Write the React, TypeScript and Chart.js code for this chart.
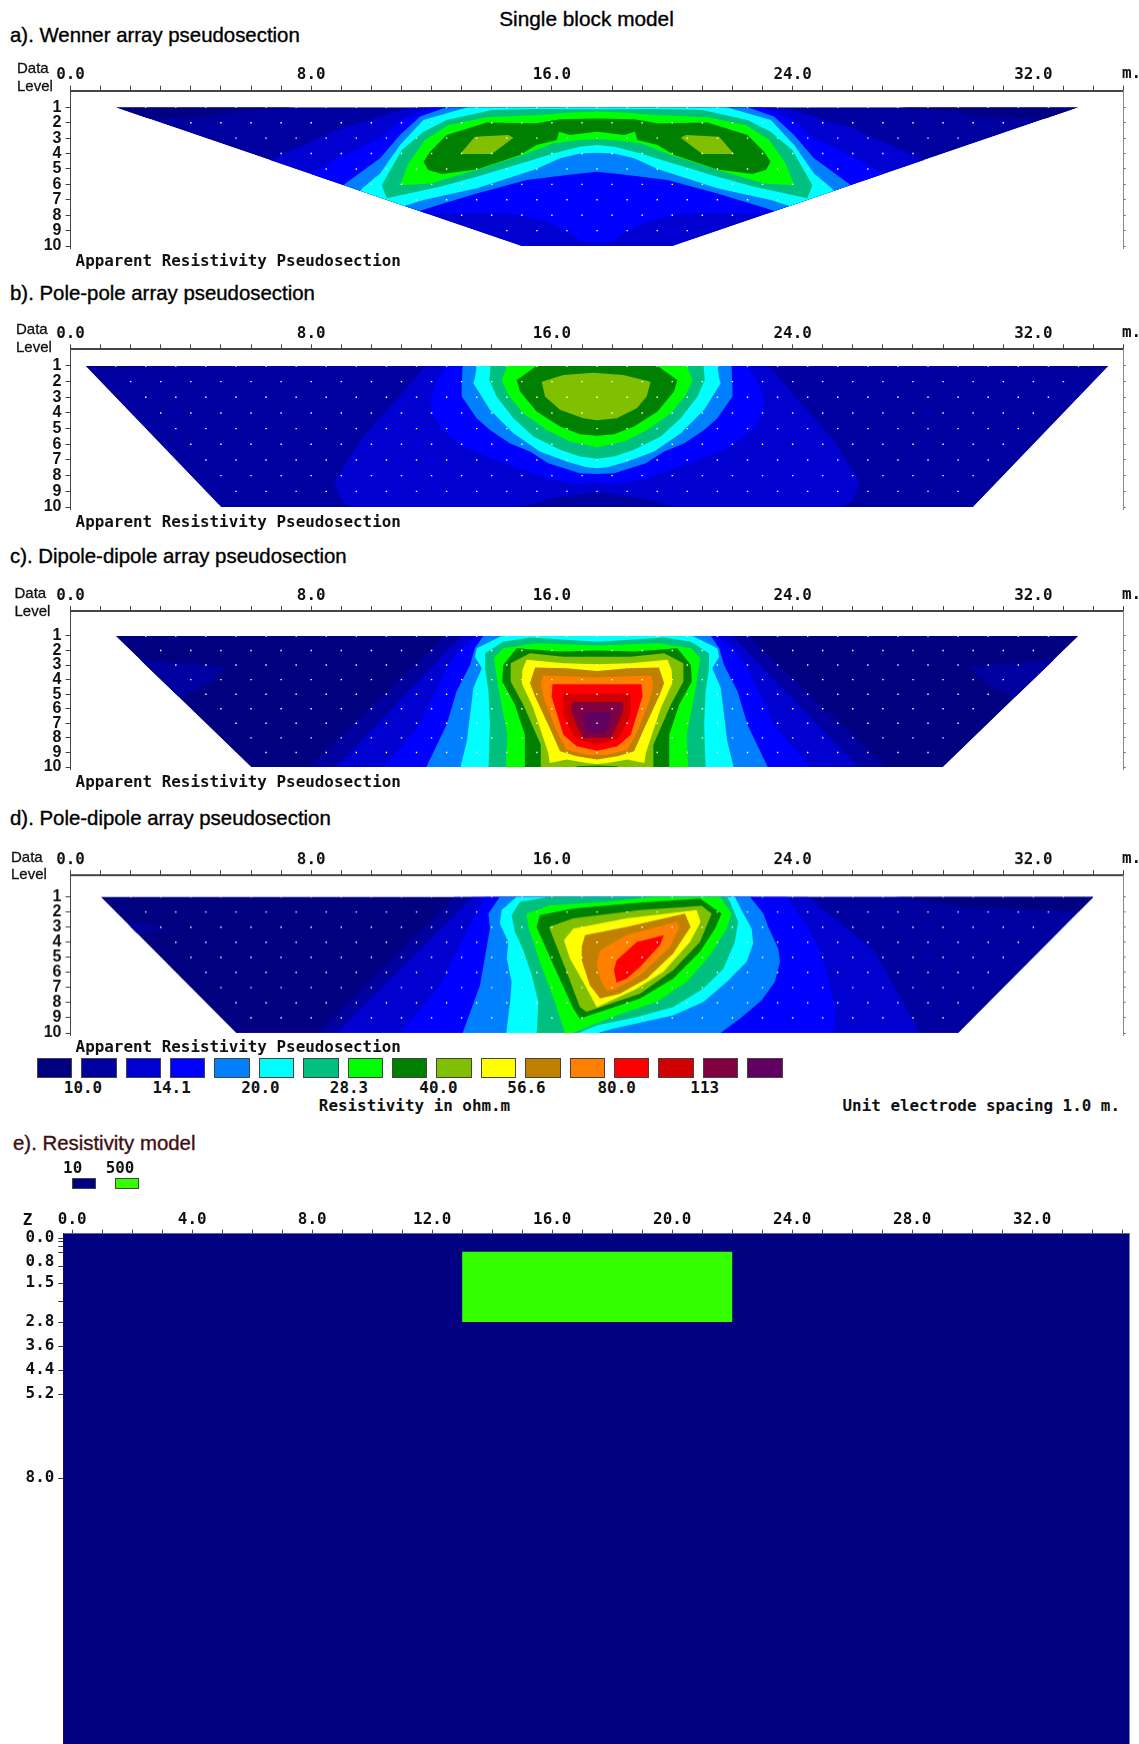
import React, { useEffect, useRef } from "react";
import { Chart, registerables } from "chart.js";

Chart.register(...registerables);

type Pt = number[];

// ---------- shared axis values ----------
const xTicksMetres = [0,1,2,3,4,5,6,7,8,9,10,11,12,13,14,15,16,17,18,19,20,21,22,23,24,25,26,27,28,29,30,31,32,33,34,35];
const xLabelledPseudo = [0, 8, 16, 24, 32];
const xLabelledModel = [0, 4, 8, 12, 16, 20, 24, 28, 32];
const levelTicks = [1,2,3,4,5,6,7,8,9,10];
const depthTicks = [0,0.12,0.27,0.48,0.8,0.96,1.5,2.12,2.8,3.6,4.4,5.2,8];
const depthLabelled = [0,0.8,1.5,2.8,3.6,4.4,5.2,8];
const depthUnmarked = [0.8];

// ---------- colour scale ----------
const bandColours = ["#000080","#0000A0","#0000D0","#0000FF","#0080FF","#00FFFF","#00C080","#00FF00","#008000","#80C000","#FFFF00","#C08000","#FF8000","#FF0000","#D00000","#800040","#600060"];
const legendValues = ["10.0","14.1","20.0","28.3","40.0","56.6","80.0","113"];
const modelValues = ["10","500"];
const modelColours = ["#000080","#33FF00"];

// ---------- helpers to complete symmetric outlines (half given, x in metres, y = data level) ----------
const mirror = (half: Pt[]): Pt[] => [...half, ...half.slice().reverse().map(([x, y]) => [35 - x, y])];
const flip = (poly: Pt[]): Pt[] => poly.map(([x, y]) => [35 - x, y]);

// ---------- a) Wenner ----------
const aOutline = [[1.5,1],[33.5,1],[20,10],[15,10]];
const aBand0 = [[1.5,1],[7.5,1],[5.7,1.28],[4.5,1.6],[3.4,1.7],[2.5,1.75]];
const aBand2 = [[17.5,11],[5.5,11],[5.5,5.5],[6,5],[7,4.1],[9,2.36],[11.2,1.06],[11.6,1],[17.5,1]];
const aBand3 = [[17.5,1],[12,1],[11,1.8],[10.3,3],[9,4.2],[7.9,5.4],[7,8],[12.67,7.87],[13.94,7.88],[14.94,7.99],[15.83,8.43],[16.49,9.08],[17.04,9.73],[17.5,9.77]];
const aBand4 = [[17.5,1],[12.5,1],[11.62,1.6],[10.95,2.8],[10.29,4.31],[9.06,6.05],[8.5,8],[11.2,8],[11.62,7.71],[12.39,7.24],[13.5,6.59],[15.16,5.72],[16.49,5.4],[17.5,5.18]];
const aBand5 = [[17.5,1],[13.2,1],[11.73,1.83],[10.95,3.45],[10.29,5.29],[9.7,6.25],[9,8],[10.8,8],[11.12,7.39],[11.73,7.02],[13.5,6.26],[15.44,5.03],[16.27,4.31],[16.93,3.99],[17.5,3.95]];
const aBand6 = [[17.5,1.13],[15.49,1.11],[14,1.18],[12.5,1.83],[11.73,2.58],[11.01,3.77],[10.34,6.05],[10.51,6.9],[12.28,6.15],[13.5,5.5],[15.16,4.53],[16.05,3.99],[16.93,3.56],[17.5,3.45]];
const aBand7 = [[17.5,1.28],[16.49,1.35],[15.6,1.5],[13.83,1.65],[12.56,2.15],[11.78,3.12],[11.23,4.64],[10.95,6.05],[11.95,5.94],[13.5,5.07],[15.05,4.1],[16.05,3.34],[16.93,3.12],[17.5,3.08]];
const aBand8 = [[17.5,1.72],[16.27,1.78],[15.49,2.04],[13.83,1.98],[12.5,2.8],[11.95,3.88],[11.73,4.53],[11.89,5.07],[12.34,5.33],[13.5,5.03],[14.94,4.1],[15.49,3.45],[16.16,3.12],[16.24,2.58],[16.6,2.8],[17.5,2.58]];
const aBand9 = [[12.95,4.03],[13.44,2.91],[14.55,2.8],[14.72,2.97],[14,4.03]];
const aDotFirst = [2.5,4,5.5,7,8.5,10,11.5,13,14.5];
const aDotLast = [32.5,31,29.5,28,26.5,25,23.5,22,20.5];

// ---------- b) Pole-pole ----------
const bOutline = [[0.5,1],[34.5,1],[30,10],[5,10]];
const bBand0 = [[0.5,1],[4,1],[1,1.15]];
const bBand2 = [[17.5,1],[11.8,1],[9.74,5.5],[8.77,8.38],[9,9.55],[9.5,10.2],[14.94,10.2],[14.94,10],[16.05,9.43],[17.5,9.05]];
const bBand3 = [[17.5,1],[12.5,1],[12.17,2],[11.95,3.17],[12,3.9],[12.28,4.97],[13.05,6.14],[14.4,7.2],[15.16,7.73],[15.88,8.2],[16.82,8.54],[17.5,8.45]];
const bBand4 = [[17.5,1],[13.03,1],[13,2.42],[13,2.95],[13.5,4.33],[13.94,5.08],[14.6,5.93],[15.27,6.46],[15.88,7.2],[16.93,7.84],[17.5,7.9]];
const bBand5 = [[17.5,1],[13.5,1],[13.44,1.79],[13.39,2.1],[13.94,3.8],[14.72,5.29],[15.6,6.46],[16.49,7.09],[17.15,7.46],[17.5,7.52]];
const bBand6 = [[17.5,1],[13.96,1],[13.92,1.89],[14.16,2.95],[14.72,4.33],[15.38,5.5],[16.27,6.35],[16.93,6.78],[17.5,6.92]];
const bBand7 = [[17.5,1],[14.52,1],[14.33,1.89],[14.55,2.85],[15.05,4.02],[15.83,5.08],[16.6,5.82],[17.5,6.18]];
const bBand8 = [[17.5,1],[15.49,1],[14.83,1.89],[14.94,2.63],[15.49,3.91],[16.27,4.86],[16.93,5.35],[17.5,5.46]];
const bBand9 = [[15.66,2],[15.77,2.95],[16.27,3.8],[17.04,4.33],[17.5,4.46],[18.15,4.33],[18.82,3.7],[19.15,2.95],[19.28,2],[18.37,1.57],[17.38,1.43],[16.38,1.57]];
const bDotFirst = [1.5,2,2.5,3,3.5,4,4.5,5,5.5];
const bDotLast = [33.5,33,32.5,32,31.5,31,30.5,30,29.5];

// ---------- c) Dipole-dipole ----------
const cOutline = [[1.5,1],[33.5,1],[29,10],[6,10]];
const cIsland1 = [[2.25,2.64],[5.15,3.1],[4.67,4.2],[3.7,5.15],[3.58,5.15]];
const cBand1 = [[17.5,1],[12.45,1],[7.8,10.2],[17.5,10.2]];
const cBand2 = [[17.5,1],[13,1],[8.73,10.2],[17.5,10.2]];
const cBand3 = [[17.5,1],[13.49,1],[12.9,2],[12.5,3.2],[11.6,7.1],[10.35,10.2],[17.5,10.2]];
const cBand4 = [[17.5,1],[13.72,1],[13.44,1.85],[13.28,2.99],[12.83,4.81],[12.5,7.1],[11.78,10.2],[17.5,10.2]];
const cBand5 = [[17.5,1],[14.33,1],[13.5,1.84],[13.44,2.42],[13.67,3.21],[13.39,4.58],[13.17,8.24],[12.94,10.2],[17.5,10.2]];
const cBand6 = [[17.5,1.4],[15.27,1.1],[14.38,1.39],[13.78,2.19],[13.78,3.21],[13.89,4.81],[13.94,7.1],[13.89,10.2],[17.5,10.2]];
const cBand7 = [[17.5,1.66],[15.49,1.5],[14.38,1.84],[14.07,2.53],[14.22,4.58],[14.52,7.78],[14.47,10.2],[17.5,10.2]];
const cBand8 = [[17.5,2],[16.27,2.07],[14.83,1.84],[14.38,2.99],[14.35,4.13],[14.77,5.73],[15.1,7.78],[15.1,10.2],[17.5,10.2]];
const cBand9 = [[17.5,2.42],[16.38,2.42],[15.27,2.19],[14.63,2.87],[14.63,4.13],[15.05,5.73],[15.63,8.47],[15.63,10.2],[16.82,10.2],[16.82,9.95],[17.5,9.9]];
const cBand10 = [[17.5,2.94],[16.38,2.87],[15.16,2.64],[15.02,3.33],[15,4.24],[15.38,5.95],[15.88,9.04],[15.93,9.72],[16.49,9.49],[17.15,9.72],[17.5,9.79]];
const cBand11 = [[17.5,3.4],[16.49,3.21],[15.44,3.17],[15.27,4.24],[15.44,5.16],[15.93,7.33],[16.27,8.92],[16.82,9.27],[17.5,9.49]];
const cBand12 = [[17.5,3.85],[16.6,3.78],[15.71,3.72],[15.63,4.36],[15.77,5.5],[16.16,7.55],[16.49,8.81],[17.15,9.15],[17.5,9.2]];
const cBand13 = [[17.5,4.31],[16.02,4.31],[15.99,5.16],[16.38,7.78],[16.82,8.58],[17.5,8.88]];
const cBand14 = [[17.5,4.99],[16.38,4.99],[16.38,6.41],[16.77,8.01],[17.5,8.47]];
const cBand15 = [[17.5,5.54],[16.66,5.54],[16.62,6.07],[16.82,7.1],[17.04,8.01],[17.5,8.01]];
const cBand16 = [[17.5,6.23],[17.02,6.23],[17.1,7.21],[17.26,7.67],[17.5,7.67]];
const cDotFirst = [2.5,3,3.5,4,4.5,5,5.5,6,6.5];
const cDotLast = [32.5,32,31.5,31,30.5,30,29.5,29,28.5];

// ---------- d) Pole-dipole ----------
const dOutline = [[1,1],[34,1],[29.5,10],[5.5,10]];
const dIsland1 = [[1.89,2.66],[3.34,3.03],[2.13,3.47]];
const dBand1 = [[12.76,1],[35,1],[35,10.2],[8.1,10.2]];
const dIsland0 = [[27.4,1],[29.3,1.55],[33.4,1.95],[34,1.95],[34,1]];
const dBand2 = [[13.37,1],[24.5,1],[26.7,4.53],[28.3,10.2],[8.73,10.2]];
const dBand3 = [[13.78,1],[13.39,2.43],[12.28,6.85],[10.9,10.2],[25.33,10.2],[25.45,8.5],[25,5],[24.5,3],[23.8,1]];
const dBand4 = [[14.27,1],[13.89,2.1],[13.94,3.1],[13.61,6.85],[13,10.2],[21.47,10.2],[22.25,9.06],[22.97,7.84],[23.41,6.63],[23.58,5.3],[23.52,4.42],[23.19,2.98],[23.03,2.1],[22.58,1]];
const dBand5 = [[14.83,1],[14.33,1.88],[14.27,2.76],[14.55,3.98],[14.5,5.08],[14.66,6.63],[14.61,7.95],[14.47,10.2],[17.15,10.2],[18.04,9.72],[18.93,9.32],[20.03,8.83],[21.03,7.95],[21.81,6.63],[22.47,5.3],[22.69,4.09],[22.64,3.1],[22.3,1.88],[22.08,1]];
const dBand6 = [[15.94,1],[14.94,1.33],[14.66,2.21],[14.77,3.32],[15.05,4.53],[15.33,6.19],[15.55,7.95],[15.49,10.2],[16.66,10.2],[17.49,9.5],[18.82,8.95],[20.03,8.28],[21.03,7.07],[21.7,5.74],[22.08,3.98],[22.19,2.65],[21.92,1.33],[21.81,1]];
const dBand7 = [[15.16,2.1],[15.94,1.55],[17.82,1.33],[19.37,1],[21.59,1],[21.97,2.1],[21.81,3.1],[21.25,4.86],[20.48,6.63],[19.48,7.95],[18.48,8.61],[17.15,9.61],[16.47,10.2],[16.1,7.95],[15.6,5.3],[15.22,2.98]];
const dBand8 = [[15.49,2.98],[15.6,2.21],[16.71,1.77],[18.93,1.37],[20.92,1.11],[21.64,2.1],[21.42,3.1],[20.92,4.64],[20.03,6.41],[18.93,7.73],[16.93,9.06],[16.71,8.39],[16.05,5.52]];
const dBand9 = [[15.9,2.98],[16.71,2.43],[18.93,1.88],[20.98,1.59],[21.31,2.1],[20.92,3.98],[20.03,5.85],[18.93,7.4],[17.15,8.61],[16.93,8.28],[16.49,5.96]];
const dBand10 = [[16.4,3.87],[16.71,3.1],[18.48,2.43],[20.81,1.88],[20.94,2.65],[20.59,3.98],[19.7,5.96],[18.82,7.07],[17.49,8.3],[17.04,6.63],[16.6,5.08]];
const dBand11 = [[16.99,4.31],[17.1,3.54],[18.48,2.98],[20.42,2.1],[20.61,2.98],[20.03,4.75],[19.15,6.41],[18.26,7.4],[17.6,7.73],[17.26,6.85],[16.99,5.19]];
const dBand12 = [[17.49,5.41],[17.6,4.53],[18.48,3.54],[20.15,2.65],[20.23,2.98],[19.92,4.31],[18.93,6.19],[18.04,7.18],[17.82,7.18],[17.6,6.41]];
const dBand13 = [[18.06,5.85],[18.15,5.19],[18.82,3.98],[19.72,3.54],[19.59,4.2],[18.93,5.63],[18.48,6.41],[18.15,6.67]];
const dDotFirst = [2,2.5,3,3.5,4,4.5,5,5.5,6];
const dDotLast = [33,32.5,32,31.5,31,30.5,30,29.5,29];

// ---------- e) model ----------
const modelBackground = [[-1,-1],[36,-1],[36,18],[-1,18]];
const modelBlock = [[13,0.46],[22,0.46],[22,2.8],[13,2.8]];

// ---------- painter's-order layers: [polygon, colour index] ----------
const aLayers: [Pt[], number][] = [[aOutline,1],[aBand0,0],[flip(aBand0),0],[mirror(aBand2),2],[mirror(aBand3),3],[mirror(aBand4),4],[mirror(aBand5),5],[mirror(aBand6),6],[mirror(aBand7),7],[mirror(aBand8),8],[aBand9,9],[flip(aBand9),9]];
const bLayers: [Pt[], number][] = [[bOutline,1],[bBand0,0],[flip(bBand0),0],[mirror(bBand2),2],[mirror(bBand3),3],[mirror(bBand4),4],[mirror(bBand5),5],[mirror(bBand6),6],[mirror(bBand7),7],[mirror(bBand8),8],[bBand9,9]];
const cLayers: [Pt[], number][] = [[cOutline,0],[cIsland1,1],[flip(cIsland1),1],[mirror(cBand1),1],[mirror(cBand2),2],[mirror(cBand3),3],[mirror(cBand4),4],[mirror(cBand5),5],[mirror(cBand6),6],[mirror(cBand7),7],[mirror(cBand8),8],[mirror(cBand9),9],[mirror(cBand10),10],[mirror(cBand11),11],[mirror(cBand12),12],[mirror(cBand13),13],[mirror(cBand14),14],[mirror(cBand15),15],[mirror(cBand16),16]];
const dLayers: [Pt[], number][] = [[dOutline,0],[dIsland1,1],[dBand1,1],[dIsland0,0],[dBand2,2],[dBand3,3],[dBand4,4],[dBand5,5],[dBand6,6],[dBand7,7],[dBand8,8],[dBand9,9],[dBand10,10],[dBand11,11],[dBand12,12],[dBand13,13]];

// ---------- layout ----------
const MONO = "'DejaVu Sans Mono', monospace";
const SANS = "'Liberation Sans', Arial, sans-serif";
const monoFont = { family: "DejaVu Sans Mono", size: 15.9, weight: "bold" as const };
const levelFont = { family: "Liberation Sans", size: 16, weight: "bold" as const };

const panels = [
  { key: "a", layers: aLayers, outline: aOutline, first: aDotFirst, last: aDotLast, axis: 90.7, y1: 107.3, y10: 246 },
  { key: "b", layers: bLayers, outline: bOutline, first: bDotFirst, last: bDotLast, axis: 349.3, y1: 366, y10: 507.3 },
  { key: "c", layers: cLayers, outline: cOutline, first: cDotFirst, last: cDotLast, axis: 611, y1: 636, y10: 767.3 },
  { key: "d", layers: dLayers, outline: dOutline, first: dDotFirst, last: dDotLast, axis: 875, y1: 896.7, y10: 1032.7 },
];

const titles = [
  { text: "a). Wenner array pseudosection", x: 10, y: 34.5 },
  { text: "b). Pole-pole array pseudosection", x: 10, y: 292.5 },
  { text: "c). Dipole-dipole array pseudosection", x: 10, y: 555.5 },
  { text: "d). Pole-dipole array pseudosection", x: 10, y: 818 },
];
const dataLabels = [
  { x: 17, data: 66.7, level: 84.7 },
  { x: 16, data: 328.3, level: 346.3 },
  { x: 14.5, data: 592, level: 610 },
  { x: 11, data: 855.7, level: 873.3 },
];
const pseudoCaptionY = [261, 521.7, 782.3, 1047.3];
const unitLabelY = [73, 331.5, 593.5, 857.5];
const legendLabelX = [83, 171.6, 260.4, 349, 438.5, 526.5, 616.7, 704.7];

function Txt(p: { x: number; y: number; children: React.ReactNode; font?: string; size?: number; bold?: boolean; align?: "l" | "c" | "r"; color?: string; stroke?: number }) {
  const tx = p.align === "c" ? "-50%" : p.align === "r" ? "-100%" : "0";
  return (
    <span
      style={{
        position: "absolute", left: p.x, top: p.y, transform: `translate(${tx},-50%)`, whiteSpace: "pre",
        fontFamily: p.font ?? MONO, fontSize: p.size ?? 15.9, fontWeight: p.bold === false ? 400 : 700,
        color: p.color ?? "#111", lineHeight: 1, WebkitTextStroke: p.stroke ? `${p.stroke}px ${p.color ?? "#111"}` : undefined,
      }}
    >
      {p.children}
    </span>
  );
}

const dataset = (poly: Pt[], colour: string) => ({
  data: poly.map(([x, y]) => ({ x, y })),
  showLine: true,
  fill: "shape",
  backgroundColor: colour,
  borderWidth: 0,
  pointRadius: 0,
  tension: 0,
});

function dotDataset(first: number[], last: number[]) {
  const pts: { x: number; y: number }[] = [];
  first.forEach((f, i) => {
    for (let x = f; x <= last[i]; x += 1) pts.push({ x, y: levelTicks[i] });
  });
  return {
    data: pts,
    showLine: false,
    pointStyle: "rect",
    pointRadius: 1,
    pointBorderWidth: 0,
    pointBackgroundColor: "#ffffff",
    backgroundColor: "#ffffff",
  };
}

function pseudoChart(canvas: HTMLCanvasElement, p: (typeof panels)[number], top: number) {
  const spacing = (p.y10 - p.y1) / 9;
  const yMin = 1 - (p.y1 - p.axis) / spacing;
  const yMax = 10 + 2 / spacing;
  const clipPlugin = {
    id: "outlineClip",
    beforeDatasetsDraw(chart: any) {
      const { ctx, scales } = chart;
      ctx.save();
      ctx.beginPath();
      p.outline.forEach(([x, y], i) => {
        const px = scales.x.getPixelForValue(x);
        const py = scales.y.getPixelForValue(y);
        if (i === 0) ctx.moveTo(px, py);
        else ctx.lineTo(px, py);
      });
      ctx.closePath();
      ctx.clip();
    },
    afterDatasetsDraw(chart: any) {
      chart.ctx.restore();
    },
  };
  // Chart.js paints the first dataset last, so the dots and the innermost bands come first.
  const layerDatasets = p.layers.map(([poly, c]) => dataset(poly, bandColours[c])).reverse();
  return new Chart(canvas, {
    type: "scatter",
    data: { datasets: [dotDataset(p.first, p.last), ...layerDatasets] as any },
    plugins: [clipPlugin],
    options: {
      responsive: false,
      animation: false,
      layout: { padding: { left: 0, right: 1139 - 1123.6, top: 0, bottom: 20 } },
      plugins: { legend: { display: false }, tooltip: { enabled: false }, title: { display: false } },
      scales: {
        x: {
          type: "linear", position: "top", min: 0, max: 35,
          afterBuildTicks: (a: any) => { a.ticks = xTicksMetres.map((value) => ({ value })); },
          afterFit: (s: any) => { s.height = p.axis - top; },
          ticks: {
            autoSkip: false, maxRotation: 0, minRotation: 0, padding: 1, font: monoFont, color: "#111",
            callback: (v: any) => (xLabelledPseudo.includes(Number(v)) ? Number(v).toFixed(1) : ""),
          },
          grid: { drawOnChartArea: false, drawTicks: true, tickLength: 5, color: "#444" },
          border: { color: "#444", width: 2 },
        },
        y: {
          type: "linear", position: "left", reverse: true, min: yMin, max: yMax,
          afterBuildTicks: (a: any) => { a.ticks = levelTicks.map((value) => ({ value })); },
          afterFit: (s: any) => { s.width = 70.5; },
          ticks: { autoSkip: false, padding: 4, font: levelFont, color: "#111", callback: (v: any) => String(v) },
          grid: { drawOnChartArea: false, tickLength: 5, color: "#444" },
          border: { color: "#444", width: 1 },
        },
        y2: {
          type: "linear", axis: "y", position: "right", reverse: true, min: yMin, max: yMax,
          afterBuildTicks: (a: any) => { a.ticks = levelTicks.map((value) => ({ value })); },
          afterFit: (s: any) => { s.width = 0; },
          ticks: { autoSkip: false, padding: 0, callback: () => "" },
          grid: { drawOnChartArea: false, tickLength: 2, color: "#666" },
          border: { color: "#888", width: 1 },
        },
      },
    } as any,
  });
}

function modelChart(canvas: HTMLCanvasElement, top: number) {
  const areaTop = 1233.7;
  const zero = 1238;
  const perUnit = 30;
  const bottom = 1744;
  return new Chart(canvas, {
    type: "scatter",
    data: {
      datasets: [dataset(modelBlock, modelColours[1]), dataset(modelBackground, modelColours[0])] as any,
    },
    options: {
      responsive: false,
      animation: false,
      layout: { padding: { left: 0, right: 1139 - 1129.5, top: 0, bottom: 20 } },
      plugins: { legend: { display: false }, tooltip: { enabled: false } },
      scales: {
        x: {
          type: "linear", position: "top", min: (63.3 - 72.2) / perUnit, max: (1129.5 - 72.2) / perUnit,
          afterBuildTicks: (a: any) => { a.ticks = xTicksMetres.map((value) => ({ value })); },
          afterFit: (s: any) => { s.height = areaTop - top; },
          ticks: {
            autoSkip: false, maxRotation: 0, minRotation: 0, padding: 0, font: monoFont, color: "#111",
            callback: (v: any) => (xLabelledModel.includes(Number(v)) ? Number(v).toFixed(1) : ""),
          },
          grid: { drawOnChartArea: false, tickLength: 4, color: "#444" },
          border: { color: "#8080c0", width: 1 },
        },
        y: {
          type: "linear", position: "left", reverse: true,
          min: (areaTop - zero) / perUnit, max: (bottom - zero) / perUnit,
          afterBuildTicks: (a: any) => { a.ticks = depthTicks.map((value) => ({ value })); },
          afterFit: (s: any) => { s.width = 63.3; },
          ticks: {
            autoSkip: false, padding: 4, font: monoFont, color: "#111",
            callback: (v: any) => (depthLabelled.includes(Number(v)) ? Number(v).toFixed(1) : ""),
          },
          grid: {
            drawOnChartArea: false, tickLength: 5,
            tickColor: (c: any) => (depthUnmarked.includes(c.tick?.value) ? "rgba(0,0,0,0)" : "#333"),
            color: "#333",
          },
          border: { color: "#333", width: 1 },
        },
      },
    } as any,
  });
}

export default function App() {
  const refs = useRef<(HTMLCanvasElement | null)[]>([]);
  const panelTops = [60, 320, 580, 845];
  const modelTop = 1195;
  useEffect(() => {
    const charts = panels.map((p, i) => pseudoChart(refs.current[i]!, p, panelTops[i]));
    charts.push(modelChart(refs.current[4]!, modelTop));
    return () => charts.forEach((c) => c.destroy());
  }, []);

  return (
    <div style={{ position: "absolute", left: 0, top: 0, width: 1139, height: 1744, overflow: "hidden", background: "#fff" }}>
      {panels.map((p, i) => {
        const h = p.y10 + 2 + 20 - panelTops[i];
        return (
          <canvas
            key={p.key}
            ref={(el) => { refs.current[i] = el; }}
            width={1139}
            height={h}
            style={{ position: "absolute", left: 0, top: panelTops[i], width: 1139, height: h }}
          />
        );
      })}
      <canvas
        ref={(el) => { refs.current[4] = el; }}
        width={1139}
        height={1744 + 20 - modelTop}
        style={{ position: "absolute", left: 0, top: modelTop, width: 1139, height: 1744 + 20 - modelTop }}
      />

      <Txt x={586.5} y={19} font={SANS} size={20.8} bold={false} align="c" color="#000" stroke={0.35}>Single block model</Txt>
      {titles.map((t) => (
        <Txt key={t.text} x={t.x} y={t.y} font={SANS} size={20.4} bold={false} color="#000" stroke={0.35}>{t.text}</Txt>
      ))}
      <Txt x={13} y={1142.5} font={SANS} size={20.4} bold={false} color="#401010" stroke={0.35}>e). Resistivity model</Txt>

      {dataLabels.map((d, i) => (
        <React.Fragment key={i}>
          <Txt x={d.x} y={d.data} font={SANS} size={15} bold={false} stroke={0.3}>Data</Txt>
          <Txt x={d.x} y={d.level} font={SANS} size={15} bold={false} stroke={0.3}>Level</Txt>
        </React.Fragment>
      ))}
      {unitLabelY.map((y, i) => <Txt key={i} x={1122} y={y}>m.</Txt>)}
      {pseudoCaptionY.map((y, i) => <Txt key={i} x={75.6} y={y} bold>Apparent Resistivity Pseudosection</Txt>)}

      {bandColours.map((c, i) => (
        <div key={c} style={{ position: "absolute", left: 36.7 + 44.4 * i, top: 1058.3, width: 35.6, height: 19.4, background: c, border: "1px solid #444", boxSizing: "border-box" }} />
      ))}
      {legendValues.map((v, i) => <Txt key={v} x={legendLabelX[i]} y={1088.3} align="c">{v}</Txt>)}
      <Txt x={414.5} y={1106} align="c">Resistivity in ohm.m</Txt>
      <Txt x={1120} y={1106} align="r">Unit electrode spacing 1.0 m.</Txt>

      <Txt x={27.6} y={1220} align="c">Z</Txt>
      {modelValues.map((v, i) => (
        <React.Fragment key={v}>
          <Txt x={[72.7, 120][i]} y={1167.7} align="c">{v}</Txt>
          <div style={{ position: "absolute", left: [72, 115][i], top: 1177.7, width: 23.5, height: 11.5, background: modelColours[i], border: "1px solid #444", boxSizing: "border-box" }} />
        </React.Fragment>
      ))}
    </div>
  );
}
